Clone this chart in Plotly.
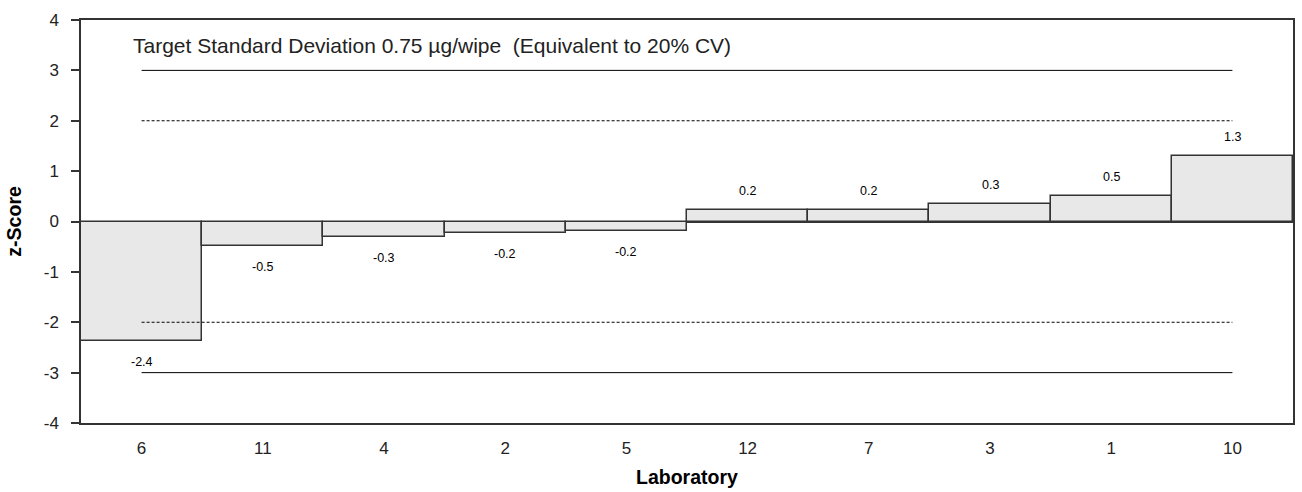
import plotly.graph_objects as go

laboratories = ["6", "11", "4", "2", "5", "12", "7", "3", "1", "10"]
z_scores = [-2.38, -0.48, -0.31, -0.22, -0.18, 0.23, 0.23, 0.34, 0.51, 1.30]
action_limits = [3, -3]
warning_limits = [2, -2]
y_ticks = [-4, -3, -2, -1, 0, 1, 2, 3, 4]
title_text = "Target Standard Deviation 0.75 µg/wipe  (Equivalent to 20% CV)"

fig = go.Figure()

fig.add_trace(go.Bar(
    x=laboratories, y=z_scores,
    marker=dict(color="#e8e8e8", line=dict(color="#333333", width=1.5)),
    showlegend=False, hoverinfo="x+y",
))

for lim in action_limits:
    fig.add_trace(go.Scatter(
        x=[laboratories[0], laboratories[-1]], y=[lim, lim], mode="lines",
        line=dict(color="#000000", width=1), showlegend=False, hoverinfo="skip",
    ))
for lim in warning_limits:
    fig.add_trace(go.Scatter(
        x=[laboratories[0], laboratories[-1]], y=[lim, lim], mode="lines",
        line=dict(color="#000000", width=1, dash="3px,2px"), showlegend=False, hoverinfo="skip",
    ))

annotations = []
for i, v in enumerate(z_scores):
    annotations.append(dict(
        x=i, y=v, xref="x", yref="y", text=f"{v:.1f}", showarrow=False,
        yshift=19 if v >= 0 else -21, font=dict(size=12.5, color="#000000"),
    ))

annotations.append(dict(
    x=0.041, y=3.5, xref="paper", yref="y", text=title_text, showarrow=False,
    xanchor="left", yanchor="middle", font=dict(size=21, color="#222222"),
))
annotations.append(dict(
    x=0.5, y=-0.135, xref="paper", yref="paper", text="<b>Laboratory</b>", showarrow=False,
    xanchor="center", yanchor="middle", font=dict(size=19.5, color="#000000"),
))
annotations.append(dict(
    x=-0.056, y=0.5, xref="paper", yref="paper", text="<b>z-Score</b>", showarrow=False,
    xanchor="center", yanchor="middle", textangle=-90, font=dict(size=19.5, color="#000000"),
))

fig.update_layout(
    width=1302, height=492,
    margin=dict(l=81, r=7, t=20, b=69),
    paper_bgcolor="white", plot_bgcolor="white",
    bargap=0,
    font=dict(family="Liberation Sans, Arial, sans-serif", color="#000000"),
    annotations=annotations,
)

fig.update_xaxes(
    type="category", categoryorder="array", categoryarray=laboratories,
    range=[-0.5, len(laboratories) - 0.5],
    showline=True, linecolor="#333333", linewidth=1.5, mirror=True,
    showgrid=False, zeroline=False, ticks="", ticklabelstandoff=9,
    tickfont=dict(size=17, color="#222222"),
)
fig.update_yaxes(
    range=[-4, 4], tickvals=y_ticks, ticktext=[str(t) for t in y_ticks],
    showline=True, linecolor="#333333", linewidth=1.5, mirror=True,
    showgrid=False, zeroline=True, zerolinecolor="#333333", zerolinewidth=1.5,
    ticks="outside", ticklen=8, tickcolor="#333333", tickwidth=1.5,
    ticklabelstandoff=9, tickfont=dict(size=17, color="#222222"),
)

fig.write_html("out.html")
